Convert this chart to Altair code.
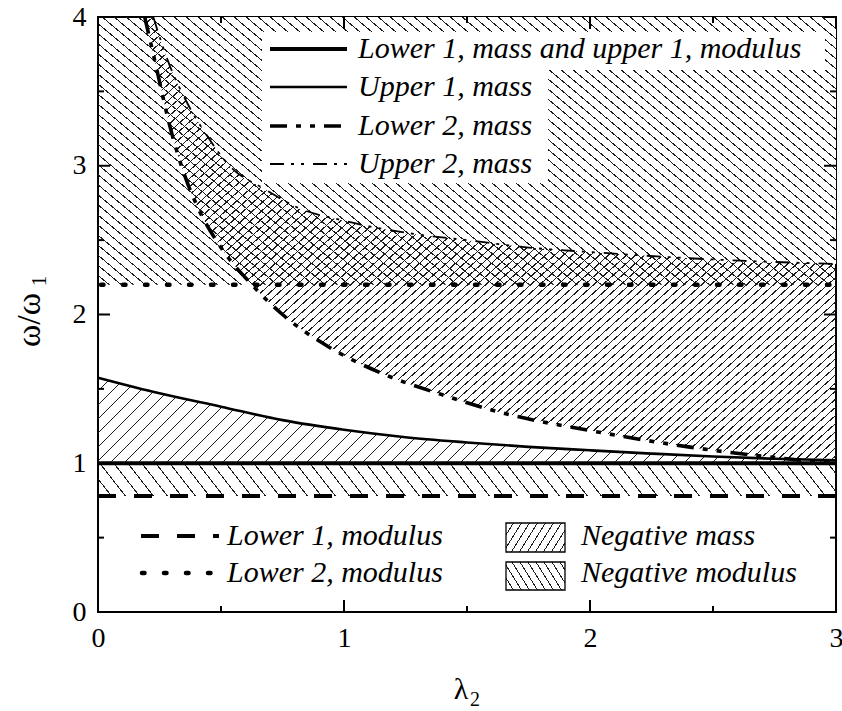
import math
import altair as alt
import pandas as pd

# ---------------- data ----------------
X_DOMAIN = [0, 3]
Y_DOMAIN = [0, 4]
X_MAJOR = [0, 1, 2, 3]
X_MINOR = [0.5, 1.5, 2.5]
Y_MAJOR = [0, 1, 2, 3, 4]
Y_MINOR = [0.5, 1.5, 2.5, 3.5]

LOWER1_MASS = 1.0      # lower 1, mass  == upper 1, modulus
LOWER1_MOD = 0.78      # lower 1, modulus
LOWER2_MOD = 2.2       # lower 2, modulus

U1_X = [0.0, 0.25, 0.5, 0.75, 1.0, 1.25, 1.5, 1.75, 2.0, 2.25, 2.5, 2.75, 3.0]
U1_Y = [1.575, 1.47, 1.38, 1.29, 1.225, 1.175, 1.14, 1.11, 1.087, 1.065, 1.045, 1.03, 1.02]

L2_X = [0.19, 0.24, 0.29, 0.36, 0.40, 0.50, 0.62, 0.75, 0.94, 1.16, 1.40, 1.64, 2.00, 2.40, 2.80, 3.00]
L2_Y = [4.00, 3.64, 3.28, 2.90, 2.74, 2.45, 2.21, 2.00, 1.78, 1.60, 1.46, 1.34, 1.22, 1.11, 1.03, 1.00]

U2_X = [0.225, 0.24, 0.29, 0.36, 0.44, 0.54, 0.67, 0.81, 1.0, 1.25, 1.5, 1.75, 2.0, 2.5, 3.0]
U2_Y = [4.00, 3.92, 3.68, 3.43, 3.21, 2.99, 2.85, 2.72, 2.63, 2.55, 2.50, 2.45, 2.42, 2.37, 2.34]

TOP_LEGEND = ["Lower 1, mass and upper 1, modulus", "Upper 1, mass",
              "Lower 2, mass", "Upper 2, mass"]
BOTTOM_LINES = ["Lower 1, modulus", "Lower 2, modulus"]
BOTTOM_FILLS = ["Negative mass", "Negative modulus"]
X_TITLE = ["λ", "2"]
Y_TITLE = ["ω/ω", "1"]

# ---------------- layout / style ----------------
W, H = 738, 595
LEFT, TOP = 98, 17
SX = W / (X_DOMAIN[1] - X_DOMAIN[0])
SY = H / (Y_DOMAIN[1] - Y_DOMAIN[0])
SERIF = "Liberation Serif"
INK = "black"
HATCH = "#1c1c1c"
CLEAR = "rgba(255,255,255,0)"

xs = alt.Scale(domain=X_DOMAIN, nice=False, zero=False)
ys = alt.Scale(domain=Y_DOMAIN, nice=False, zero=False)
XAX = alt.Axis(values=X_MAJOR, format="d", title=None, labelFlush=False)
YAX = alt.Axis(values=Y_MAJOR, format="d", title=None, labelFlush=False)


def X(f):
    return alt.X(f"{f}:Q", scale=xs, axis=XAX)


def Y(f):
    return alt.Y(f"{f}:Q", scale=ys, axis=YAX, stack=None)


def hatch(w, h, spacing, angle, slash, lw=1.0):
    """Striped linear gradient (objectBoundingBox) imitating a hatch fill."""
    th = math.radians(angle)
    nu = math.sin(th)
    nv = math.cos(th) if slash else -math.cos(th)
    R = abs(nu) * w + abs(nv) * h
    k = R / (nu * nu * w * w + nv * nv * h * h)
    x1 = 0.0 if nu >= 0 else 1.0
    y1 = 0.0 if nv >= 0 else 1.0
    x2 = x1 + k * nu * w
    y2 = y1 + k * nv * h
    perp = spacing * math.sin(th)
    n = int(R / perp) + 2
    stops = []
    for i in range(n):
        a = min(i * perp / R, 1.0)
        b = min((i * perp + perp - lw) / R, 1.0)
        c = min((i + 1) * perp / R, 1.0)
        stops += [alt.GradientStop(color=CLEAR, offset=a),
                  alt.GradientStop(color=CLEAR, offset=b),
                  alt.GradientStop(color=HATCH, offset=b),
                  alt.GradientStop(color=HATCH, offset=c)]
    return alt.LinearGradient(gradient="linear", stops=stops,
                              x1=x1, y1=y1, x2=x2, y2=y2)


def one():
    return alt.Data(values=[{}])


def txt(s, x, y, size=30, italic=True, angle=None, align="left"):
    kw = dict(align=align, baseline="middle", font=SERIF, fontSize=size, color=INK)
    if italic:
        kw["fontStyle"] = "italic"
    if angle is not None:
        kw["angle"] = angle
    return alt.Chart(pd.DataFrame({"t": [s]})).mark_text(**kw).encode(
        text="t:N", x=alt.value(x), y=alt.value(y))


def sample(x0, x1, y, **kw):
    return alt.Chart(one()).mark_rule(color=INK, **kw).encode(
        x=alt.value(x0), x2=alt.value(x1), y=alt.value(y))


def box(x0, x1, y0, y1, fill, **kw):
    return alt.Chart(one()).mark_rect(fill=fill, **kw).encode(
        x=alt.value(x0), x2=alt.value(x1), y=alt.value(y0), y2=alt.value(y1))


u1 = pd.DataFrame({"x": U1_X, "y": U1_Y, "base": [LOWER1_MASS] * len(U1_X)})
l2 = pd.DataFrame({"x": L2_X, "y": L2_Y, "top": [Y_DOMAIN[1]] * len(L2_X)})
u2 = pd.DataFrame({"x": U2_X, "y": U2_Y, "top": [Y_DOMAIN[1]] * len(U2_X)})
band_low = pd.DataFrame({"lo": [LOWER1_MOD], "hi": [LOWER1_MASS]})
band_top = pd.DataFrame({"lo": [LOWER2_MOD], "hi": [Y_DOMAIN[1]]})

layers = []

# ---- hatched regions ----
layers.append(alt.Chart(u1).mark_area(
    interpolate="monotone",
    fill=hatch(W, (max(U1_Y) - LOWER1_MASS) * SY, 14, 45, True)).encode(
    x=X("x"), y=Y("y"), y2="base:Q"))
layers.append(alt.Chart(band_low).mark_rect(
    fill=hatch(W, (LOWER1_MASS - LOWER1_MOD) * SY, 14, 52, False)).encode(
    x=alt.value(0), x2=alt.value(W), y=Y("hi"), y2="lo:Q"))
layers.append(alt.Chart(l2).mark_area(
    interpolate="monotone", clip=True,
    fill=hatch((X_DOMAIN[1] - L2_X[0]) * SX, (Y_DOMAIN[1] - min(L2_Y)) * SY, 9, 42, True)).encode(
    x=X("x"), y=Y("y"), y2="top:Q"))
layers.append(alt.Chart(u2).mark_area(
    interpolate="monotone", clip=True, fill="white").encode(
    x=X("x"), y=Y("y"), y2="top:Q"))
layers.append(alt.Chart(band_top).mark_rect(
    fill=hatch(W, (Y_DOMAIN[1] - LOWER2_MOD) * SY, 12, 40, False)).encode(
    x=alt.value(0), x2=alt.value(W), y=Y("hi"), y2="lo:Q"))

# ---- boundary lines ----
layers.append(alt.Chart(pd.DataFrame({"y": [LOWER1_MOD]})).mark_rule(
    color=INK, strokeWidth=4, strokeDash=[18, 18]).encode(
    y=Y("y"), x=alt.value(0), x2=alt.value(W)))
layers.append(alt.Chart(pd.DataFrame({"y": [LOWER2_MOD]})).mark_rule(
    color=INK, strokeWidth=4.5, strokeDash=[2.5, 19.5], strokeCap="round").encode(
    y=Y("y"), x=alt.value(3), x2=alt.value(W)))
layers.append(alt.Chart(pd.DataFrame({"y": [LOWER1_MASS]})).mark_rule(
    color=INK, strokeWidth=4).encode(
    y=Y("y"), x=alt.value(0), x2=alt.value(W)))
layers.append(alt.Chart(u1).mark_line(
    color=INK, strokeWidth=2.6, interpolate="monotone").encode(x=X("x"), y=Y("y")))
layers.append(alt.Chart(l2).mark_line(
    color=INK, strokeWidth=3.6, interpolate="monotone", clip=True,
    strokeDash=[17, 9, 5, 9, 5, 9]).encode(x=X("x"), y=Y("y")))
layers.append(alt.Chart(u2).mark_line(
    color=INK, strokeWidth=1.8, interpolate="monotone", clip=True,
    strokeDash=[14, 7, 3, 7, 3, 9]).encode(x=X("x"), y=Y("y")))

# ---- inward ticks on all four sides ----
for vals, ln in ((X_MAJOR, 12), (X_MINOR, 6)):
    d = pd.DataFrame({"v": vals})
    layers.append(alt.Chart(d).mark_rule(color=INK, strokeWidth=2).encode(
        x=X("v"), y=alt.value(H), y2=alt.value(H - ln)))
    layers.append(alt.Chart(d).mark_rule(color=INK, strokeWidth=2).encode(
        x=X("v"), y=alt.value(0), y2=alt.value(ln)))
for vals, ln in ((Y_MAJOR, 12), (Y_MINOR, 6)):
    d = pd.DataFrame({"v": vals})
    layers.append(alt.Chart(d).mark_rule(color=INK, strokeWidth=2).encode(
        y=Y("v"), x=alt.value(0), x2=alt.value(ln)))
    layers.append(alt.Chart(d).mark_rule(color=INK, strokeWidth=2).encode(
        y=Y("v"), x=alt.value(W - ln), x2=alt.value(W)))

# ---- top legend ----
layers.append(box(164, 727, 15, 53, "white"))
layers.append(box(164, 450, 53, 166, "white"))
rows = [32, 70, 109, 147]
styles = [dict(strokeWidth=4.2),
          dict(strokeWidth=2.6),
          dict(strokeWidth=3.6, strokeDash=[17, 9, 5, 9, 5, 9]),
          dict(strokeWidth=1.8, strokeDash=[14, 7, 3, 7, 3, 9])]
for label, ry, st in zip(TOP_LEGEND, rows, styles):
    layers.append(sample(172, 249, ry, **st))
    layers.append(txt(label, 260, ry))

# ---- bottom legend ----
brow = [519, 556]
layers.append(sample(43, 121, brow[0], strokeWidth=4, strokeDash=[18, 18]))
layers.append(sample(44, 116, brow[1], strokeWidth=4.5, strokeDash=[2.5, 19.5], strokeCap="round"))
for label, ry in zip(BOTTOM_LINES, brow):
    layers.append(txt(label, 129, ry))
layers.append(box(408, 467, 506, 535, hatch(59, 29, 8, 58, True), stroke=INK, strokeWidth=1.3))
layers.append(box(408, 467, 545, 573, hatch(59, 28, 8, 58, False), stroke=INK, strokeWidth=1.3))
for label, ry in zip(BOTTOM_FILLS, brow):
    layers.append(txt(label, 483, ry))

# ---- axis titles ----
layers.append(txt(X_TITLE[0], 363, 673, size=30, italic=False, align="center"))
layers.append(txt(X_TITLE[1], 377, 683, size=20, italic=False, align="center"))
layers.append(txt(Y_TITLE[0], -68, 303, size=34, italic=False, angle=270, align="center"))
layers.append(txt(Y_TITLE[1], -58, 264, size=21, italic=False, angle=270, align="center"))

chart = alt.layer(*layers).properties(
    width=W, height=H,
    padding={"left": LEFT, "top": TOP, "right": 842 - LEFT - W, "bottom": 711 - TOP - H},
    autosize=alt.AutoSizeParams(type="none"),
    background="white",
).configure_view(stroke=INK, strokeWidth=2).configure_axis(
    domain=False, ticks=False, grid=False,
    labelFont=SERIF, labelFontSize=28, labelColor=INK, labelPadding=12,
    labelOverlap=False)

chart.save("out.html", embed_options={"renderer": "svg", "actions": False})
